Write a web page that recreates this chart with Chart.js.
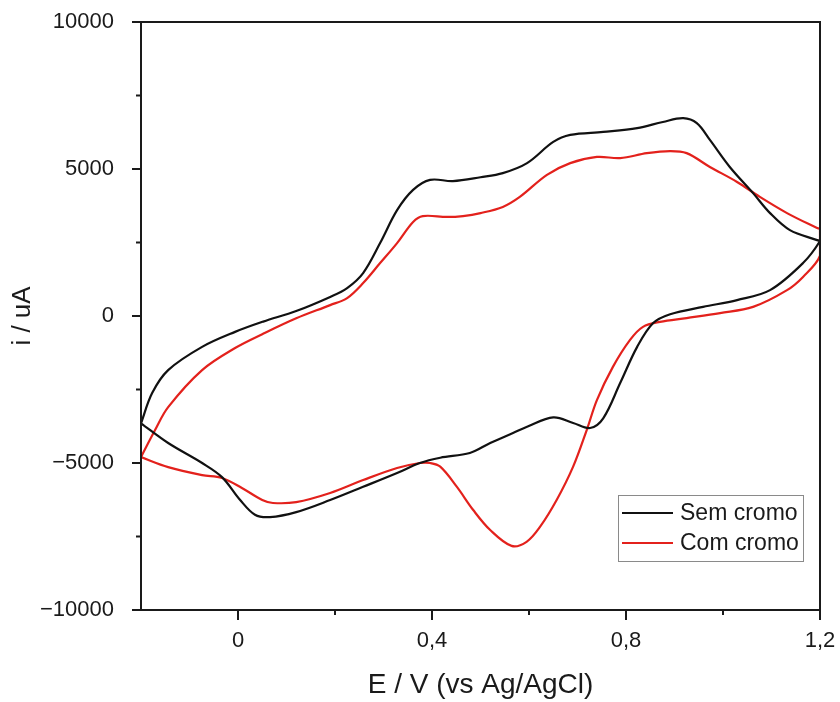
<!DOCTYPE html>
<html>
<head>
<meta charset="utf-8">
<script src="https://cdn.jsdelivr.net/npm/chart.js@4/dist/chart.umd.min.js"></script>
<style>
  html, body { margin: 0; padding: 0; background: #fff; }
  #wrap { width: 840px; height: 702px; position: relative; }
</style>
</head>
<body>
<div id="wrap"><canvas id="cv"></canvas></div>
<script>
// Sem cromo: anodic sweep (-0.2 -> 1.2) then cathodic sweep back
const semE = [
  -0.2, -0.177, -0.144, -0.074, -0.006, 0.052, 0.12, 0.19, 0.225, 0.258, 0.293, 0.328, 0.361, 0.396, 0.443, 0.5,
  0.546, 0.596, 0.65, 0.685, 0.753, 0.823, 0.876, 0.918, 0.946, 0.973, 1.014, 1.062, 1.097, 1.138, 1.194, 1.2,
  1.165, 1.097, 1.029, 0.959, 0.891, 0.856, 0.823, 0.788, 0.753, 0.726, 0.691, 0.65, 0.596, 0.567,
  0.52, 0.478, 0.417, 0.375, 0.328, 0.258, 0.19, 0.12, 0.066, 0.035, 0.004, -0.033, -0.074, -0.144, -0.2
];
const semI = [
  -3650, -2620, -1840, -1050, -540, -190, 170, 650, 950, 1460, 2480, 3600, 4290, 4630, 4590, 4720,
  4860, 5200, 5920, 6160, 6260, 6390, 6600, 6730, 6560, 5990, 5070, 4180, 3500, 2920, 2580, 2550,
  1800, 880, 540, 310, 60, -240, -1050, -2280, -3480, -3810, -3640, -3450, -3770, -3980,
  -4320, -4660, -4820, -5000, -5340, -5810, -6260, -6670, -6840, -6760, -6250, -5480, -5000, -4320, -3650
];

// Com cromo
const comE = [
  -0.2, -0.171, -0.144, -0.074, -0.006, 0.05, 0.12, 0.19, 0.225, 0.258, 0.293, 0.328, 0.361, 0.381, 0.431, 0.464,
  0.5, 0.546, 0.581, 0.637, 0.685, 0.74, 0.788, 0.843, 0.891, 0.925, 0.973, 1.029, 1.076, 1.132, 1.194, 1.2,
  1.2, 1.165, 1.132, 1.062, 0.994, 0.925, 0.87, 0.835, 0.808, 0.773, 0.74, 0.719, 0.691, 0.657, 0.623, 0.595,
  0.564, 0.52, 0.485, 0.451, 0.417, 0.396, 0.375, 0.328, 0.258, 0.19, 0.12, 0.072, 0.05, 0.008, -0.033, -0.074, -0.144, -0.2
];
const comI = [
  -4800, -3880, -3100, -1840, -1090, -620, -80, 370, 610, 1120, 1800, 2480, 3200, 3400, 3370, 3400,
  3500, 3710, 4050, 4800, 5200, 5410, 5370, 5540, 5610, 5540, 5070, 4560, 4050, 3500, 2990, 2950,
  2050, 1330, 880, 310, 100, -70, -200, -370, -820, -1730, -2860, -3880, -5125, -6260, -7165, -7680,
  -7820, -7280, -6600, -5805, -5125, -5000, -5000, -5170, -5580, -6020, -6330, -6360, -6260, -5850, -5510, -5410, -5140, -4800
];

const seriesNames = ['Sem cromo', 'Com cromo'];
const seriesColors = ['#111111', '#e3211c'];

const xTicks = [0, 0.2, 0.4, 0.6, 0.8, 1.0, 1.2];
const xLabels = {0: '0', 0.4: '0,4', 0.8: '0,8', 1.2: '1,2'};
const yTicks = [-10000, -7500, -5000, -2500, 0, 2500, 5000, 7500, 10000];

const FONT = "'Liberation Sans', Arial, sans-serif";
const toPts = (xs, ys) => xs.map((x, k) => ({x: x, y: ys[k]}));

// frame, tick marks and legend box drawn on top of the chart
const framePlugin = {
  id: 'frame',
  afterDraw(chart) {
    const ctx = chart.ctx;
    const a = chart.chartArea;
    const xs = chart.scales.x, ys = chart.scales.y;
    ctx.save();
    ctx.strokeStyle = '#1a1a1a';
    ctx.lineWidth = 2;
    ctx.strokeRect(a.left, a.top, a.right - a.left, a.bottom - a.top);

    ctx.beginPath();
    xTicks.forEach(v => {
      const px = xs.getPixelForValue(v);
      const len = (v in xLabels) ? 10 : 5;
      ctx.moveTo(px, a.bottom);
      ctx.lineTo(px, a.bottom + len);
    });
    yTicks.forEach(v => {
      const py = ys.getPixelForValue(v);
      const len = (v % 5000 === 0) ? 9 : 5;
      ctx.moveTo(a.left, py);
      ctx.lineTo(a.left - len, py);
    });
    ctx.stroke();

    // legend
    const bx = a.right - 202, by = a.bottom - 115, bw = 185, bh = 66;
    ctx.fillStyle = '#fff';
    ctx.fillRect(bx, by, bw, bh);
    ctx.strokeStyle = '#8a8a8a';
    ctx.lineWidth = 1;
    ctx.strokeRect(bx + 0.5, by + 0.5, bw, bh);
    ctx.font = '23px ' + FONT;
    ctx.textBaseline = 'middle';
    seriesNames.forEach((name, k) => {
      const cy = by + 18 + k * 30;
      ctx.strokeStyle = seriesColors[k];
      ctx.lineWidth = 2;
      ctx.beginPath();
      ctx.moveTo(bx + 4, cy);
      ctx.lineTo(bx + 55, cy);
      ctx.stroke();
      ctx.fillStyle = '#1a1a1a';
      ctx.fillText(name, bx + 62, cy + 1);
    });
    ctx.restore();
  }
};

new Chart(document.getElementById('cv'), {
  type: 'scatter',
  data: {
    datasets: [
      {label: seriesNames[0], data: toPts(semE, semI), borderColor: seriesColors[0]},
      {label: seriesNames[1], data: toPts(comE, comI), borderColor: seriesColors[1]}
    ]
  },
  options: {
    responsive: true,
    maintainAspectRatio: false,
    animation: false,
    layout: {padding: {top: 22, right: 20, left: 0, bottom: 0}},
    elements: {
      point: {radius: 0},
      line: {borderWidth: 2.2, tension: 0.35, fill: false}
    },
    datasets: {scatter: {showLine: true}},
    plugins: {legend: {display: false}, tooltip: {enabled: false}},
    scales: {
      x: {
        type: 'linear', min: -0.2, max: 1.2,
        afterBuildTicks: s => { s.ticks = xTicks.map(v => ({value: v})); },
        afterFit: s => { s.height = 92; s.paddingLeft = 0; s.paddingRight = 0; },
        grid: {display: false, drawTicks: false},
        border: {display: false},
        ticks: {
          padding: 18, color: '#1a1a1a', font: {family: FONT, size: 22},
          autoSkip: false, maxRotation: 0,
          callback: v => xLabels[Math.round(v * 10) / 10] || ''
        },
        title: {display: true, text: 'E / V (vs Ag/AgCl)', color: '#1a1a1a',
          font: {family: FONT, size: 28}, padding: {top: 0, bottom: 0}}
      },
      y: {
        type: 'linear', min: -10000, max: 10000,
        afterBuildTicks: s => { s.ticks = yTicks.map(v => ({value: v})); },
        afterFit: s => { s.width = 141; s.paddingTop = 0; s.paddingBottom = 0; },
        grid: {display: false, drawTicks: false},
        border: {display: false},
        ticks: {
          padding: 27, color: '#1a1a1a', font: {family: FONT, size: 22},
          autoSkip: false,
          callback: v => (v % 5000 === 0) ? String(v).replace('-', '\u2212') : ''
        },
        title: {display: true, text: 'i / uA', color: '#1a1a1a',
          font: {family: FONT, size: 26}, padding: {top: 7, bottom: 0}}
      }
    }
  },
  plugins: [framePlugin]
});
</script>
</body>
</html>
